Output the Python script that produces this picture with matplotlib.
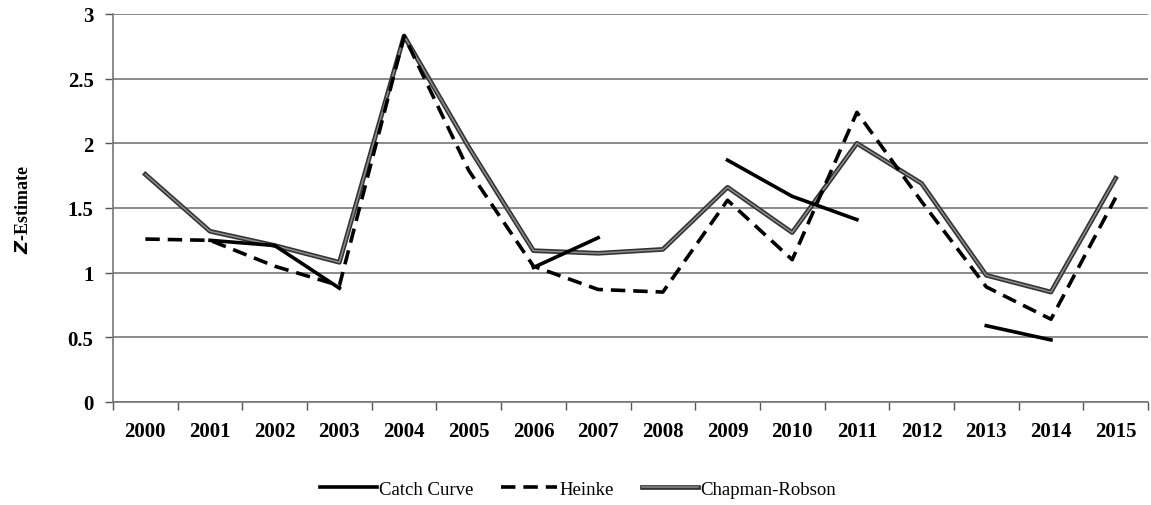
import numpy as np
import matplotlib
matplotlib.use("Agg")
import matplotlib.pyplot as plt
import matplotlib.patheffects as pe
from matplotlib.lines import Line2D

years = ["2000", "2001", "2002", "2003", "2004", "2005", "2006", "2007",
         "2008", "2009", "2010", "2011", "2012", "2013", "2014", "2015"]
nan = np.nan
catch_curve = [nan, 1.25, 1.21, 0.88, nan, nan, 1.04, 1.27,
               nan, 1.87, 1.59, 1.41, nan, 0.59, 0.48, nan]
heinke = [1.26, 1.25, 1.05, 0.90, 2.83, 1.79, 1.05, 0.87,
          0.85, 1.56, 1.10, 2.24, 1.55, 0.89, 0.64, 1.58]
chapman_robson = [1.76, 1.32, 1.21, 1.08, 2.83, 1.97, 1.17, 1.15,
                  1.18, 1.66, 1.31, 2.00, 1.69, 0.98, 0.85, 1.73]

plt.rcParams['font.family'] = ['Liberation Serif', 'DejaVu Serif']

fig = plt.figure(figsize=(11.51, 5.06), dpi=100)
ax = fig.add_axes([113/1151, 1 - 403/506, (1148-113)/1151, (403-15)/506])

x = np.arange(len(years))

cr_effects = [pe.Stroke(linewidth=3.4, foreground='#333333'),
              pe.Stroke(linewidth=1.1, foreground='#8c8c8c')]
ax.plot(x, chapman_robson, color='#333333', lw=3.4, path_effects=cr_effects,
        zorder=3)
ax.plot(x, heinke, color='black', lw=2.6, linestyle=(0, (4, 2.2)), zorder=4)
ax.plot(x, catch_curve, color='black', lw=2.6, zorder=5)

ax.set_xlim(-0.5, len(years) - 0.5)
ax.set_ylim(0, 3)
ax.set_yticks([0, 0.5, 1, 1.5, 2, 2.5, 3])
ax.set_yticklabels(['0', '0.5', '1', '1.5', '2', '2.5', '3'])
ax.set_xticks(x)
ax.set_xticklabels(years)
ax.set_xticks(np.arange(-0.5, len(years)), minor=True)
ax.tick_params(axis='x', which='major', length=0, pad=14)
ax.tick_params(axis='x', which='minor', length=6, width=1, color='#555555', direction='out')
ax.tick_params(axis='y', length=6, width=1, color='#555555', direction='out', pad=8)
for lab in ax.get_xticklabels() + ax.get_yticklabels():
    lab.set_fontweight('bold')
    lab.set_fontsize(15)

ax.grid(axis='y', color='#777777', lw=1.2, zorder=0)
ax.set_axisbelow(True)
for s in ['top', 'right']:
    ax.spines[s].set_visible(False)
for s in ['left', 'bottom']:
    ax.spines[s].set_color('#777777')
    ax.spines[s].set_linewidth(1.2)

ax.set_ylabel(r'$\bfit{Z}$' + '-Estimate', fontsize=13, fontweight='bold', labelpad=26)

handles = [
    Line2D([], [], color='black', lw=2.6),
    Line2D([], [], color='black', lw=2.6, linestyle=(0, (4, 2.2))),
    Line2D([], [], color='#333333', lw=3.4, path_effects=cr_effects),
]
fig.legend(handles, ['Catch Curve', 'Heinke', 'Chapman-Robson'],
           loc='center', bbox_to_anchor=(578/1151, 1 - 490/506), ncol=3,
           frameon=False, fontsize=13.5, handlelength=3.0, handletextpad=0.1,
           columnspacing=1.5)

fig.savefig('out.png', dpi=100)
